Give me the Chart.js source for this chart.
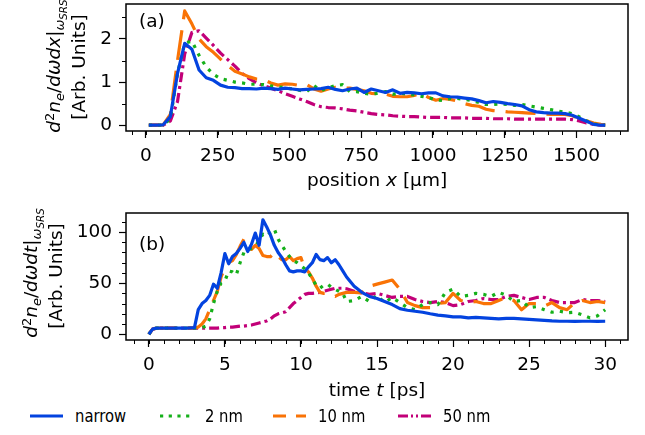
<!DOCTYPE html>
<html>
<head>
<meta charset="utf-8">
<script src="https://cdn.jsdelivr.net/npm/chart.js@4.4.1/dist/chart.umd.min.js"></script>
<style>
  body { margin: 0; background: #fff; font-family: "DejaVu Sans", sans-serif; color: #000; }
  #wrap { position: relative; width: 645px; height: 435px; overflow: hidden; }
  canvas { position: absolute; left: 0; }
  .txt { position: absolute; font-size: 18.5px; line-height: 1; white-space: nowrap; }
  .leg { font-size: 18.5px; transform-origin: 0 50%; transform: translate(0, -50%) scaleX(0.8); }
  .ctr { transform: translate(-50%, -50%); }
  .rot { transform: translate(-50%, -50%) rotate(-90deg); }
  sup { font-size: 70%; vertical-align: 0.45em; line-height: 0; }
  sub { font-size: 70%; vertical-align: -0.3em; line-height: 0; }
  sub sub { font-size: 80%; }
</style>
</head>
<body>
<div id="wrap">
  <canvas id="top" width="645" height="200" style="top:0"></canvas>
  <canvas id="bottom" width="645" height="200" style="top:200px"></canvas>

  <div class="txt rot" style="left:54px;top:66px"><i>d</i><sup>2</sup><i>n</i><sub><i>e</i></sub>/<i>dωdx</i>|<sub><i>ω</i><sub><i>SRS</i></sub></sub></div>
  <div class="txt rot" style="left:79px;top:67px">[Arb. Units]</div>
  <div class="txt ctr" style="left:377px;top:180px">position <i>x</i> [μm]</div>
  <div class="txt" style="left:139px;top:12px">(a)</div>

  <div class="txt rot" style="left:31px;top:273px"><i>d</i><sup>2</sup><i>n</i><sub><i>e</i></sub>/<i>dωdt</i>|<sub><i>ω</i><sub><i>SRS</i></sub></sub></div>
  <div class="txt rot" style="left:56px;top:276px">[Arb. Units]</div>
  <div class="txt ctr" style="left:377px;top:390px">time <i>t</i> [ps]</div>
  <div class="txt" style="left:139px;top:235px">(b)</div>

  <div id="legend"></div>
</div>
<script>
// series names
var names = ['narrow', '2 nm', '10 nm', '50 nm'];

// panel (a): position x in um
var posX = [
  10, 35, 60, 85, 110, 135, 160, 185, 210, 235,
  260, 285, 310, 335, 360, 385, 410, 435, 460, 485,
  510, 535, 560, 585, 610, 635, 660, 685, 710, 735,
  760, 785, 810, 835, 860, 885, 910, 935, 960, 985,
  1010, 1035, 1060, 1085, 1110, 1135, 1160, 1185, 1210, 1235,
  1260, 1285, 1310, 1335, 1360, 1385, 1410, 1435, 1460, 1485,
  1510, 1535, 1560, 1585, 1600
];
var posNarrow = [
  0, 0, 0.01, 0.2, 1.2, 1.9, 1.76, 1.28, 1.1, 1.04,
  0.93, 0.88, 0.87, 0.85, 0.85, 0.84, 0.86, 0.85, 0.83, 0.86,
  0.84, 0.82, 0.83, 0.84, 0.85, 0.88, 0.83, 0.8, 0.84, 0.86,
  0.76, 0.84, 0.8, 0.76, 0.82, 0.74, 0.76, 0.75, 0.73, 0.75,
  0.75, 0.68, 0.66, 0.65, 0.63, 0.61, 0.57, 0.52, 0.55, 0.53,
  0.5, 0.48, 0.45, 0.36, 0.31, 0.29, 0.28, 0.28, 0.27, 0.23,
  0.16, 0.09, 0.02, 0, 0
];
var pos2nm = [
  0, 0, 0, 0.15, 1.2, 1.9, 1.95, 1.62, 1.35, 1.18,
  1.08, 1.04, 1.0, 0.98, 0.95, 0.95, 0.94, 0.91, 0.89, 0.87,
  0.84, 0.81, 0.78, 0.92, 0.8, 0.87, 0.92, 0.94, 0.78, 0.78,
  0.74, 0.72, 0.74, 0.78, 0.72, 0.74, 0.72, 0.7, 0.67, 0.64,
  0.59, 0.57, 0.62, 0.62, 0.6, 0.57, 0.53, 0.48, 0.48, 0.49,
  0.48, 0.46, 0.48, 0.45, 0.42, 0.39, 0.36, 0.33, 0.3, 0.27,
  0.19, 0.1, 0.03, 0, 0
];
var pos10nm = [
  0, 0, 0.01, 0.25, 1.5, 2.65, 2.35, 2.0, 1.82, 1.69,
  1.53, 1.38, 1.25, 1.19, 1.12, 1.07, 1.06, 0.98, 0.93, 0.96,
  0.95, 0.92, 0.94, 0.84, 0.79, 0.84, 0.88, 0.86, 0.86, 0.83,
  0.8, 0.74, 0.73, 0.72, 0.67, 0.66, 0.66, 0.69, 0.74, 0.64,
  0.58, 0.62, 0.6, 0.56, 0.5, 0.46, 0.44, 0.37, 0.34, 0.33,
  0.31, 0.3, 0.29, 0.28, 0.27, 0.26, 0.25, 0.25, 0.25, 0.22,
  0.15, 0.1, 0.05, 0.02, 0.01
];
var pos50nm = [
  0, 0, 0, 0.1, 0.55, 1.65, 2.15, 2.19, 2.02, 1.85,
  1.67, 1.52, 1.37, 1.2, 1.08, 0.98, 0.92, 0.86, 0.8, 0.73,
  0.67, 0.61, 0.55, 0.48, 0.43, 0.41, 0.4, 0.38, 0.35, 0.33,
  0.3, 0.27, 0.25, 0.24, 0.22, 0.21, 0.2, 0.2, 0.19, 0.18,
  0.18, 0.18, 0.17, 0.17, 0.17, 0.16, 0.16, 0.16, 0.15, 0.15,
  0.15, 0.14, 0.14, 0.14, 0.14, 0.14, 0.14, 0.14, 0.14, 0.13,
  0.1, 0.05, 0.02, 0, 0
];

// panel (b): time t in ps
var timeT = [
  0, 0.25, 0.5, 1, 1.5, 2, 2.5,
  3, 3.25, 3.5, 3.75, 4, 4.25, 4.5, 4.75, 5, 5.25, 5.5, 5.75,
  6, 6.25, 6.5, 6.75, 7, 7.25, 7.5, 7.75, 8, 8.25, 8.5, 8.75,
  9, 9.25, 9.5, 9.75, 10, 10.25, 10.5, 10.75, 11, 11.25, 11.5, 11.75,
  12, 12.25, 12.5, 12.75, 13,
  13.5, 14, 14.5, 15, 15.5, 16, 16.5, 17, 17.5, 18, 18.5, 19, 19.5, 20,
  20.5, 21, 21.5, 22, 22.5, 23, 23.5, 24, 24.5, 25, 25.5, 26, 26.5, 27, 27.5, 28, 28.5, 29, 29.5, 30
];
var timeNarrow = [
  0, 5, 6, 6, 6, 6, 6,
  6.5, 24, 30, 33, 38, 49, 45, 60, 79, 69, 76, 79,
  84, 90, 81, 88, 99, 87, 112, 105, 97, 87, 80, 75,
  68, 62, 61, 62, 62, 61, 66, 70, 78, 73, 72, 75,
  70, 73, 68, 62, 56,
  47, 41, 37, 35, 32, 29, 25, 23.5, 22.5, 21.5, 20, 18.7, 18, 17,
  17, 16, 16.5, 16, 15.5, 15, 15.5, 15.5, 15, 14.5, 14, 13.5, 13, 12.7, 12.7, 12.5, 12.7, 12.7, 12.6, 12.7
];
var time2nm = [
  0, 5, 6, 6, 6, 6, 6,
  6, 6, 6.5, 8, 15, 30, 42, 50, 52, 62, 61, 58,
  70, 80, 83, 84, 86, 92, 98, 96, 100, 103, 93, 87,
  81, 76, 72, 70, 67, 64, 60, 54, 48, 45, 48, 49,
  46, 44, 42, 40, 32,
  33, 37, 32, 38, 31, 36, 31, 26, 24, 29, 31, 29, 41, 44,
  37, 38, 40, 39, 37, 41, 38, 32, 33, 26, 27, 24, 21.5, 22.5, 21, 21.5, 19, 16, 18, 24
];
var time10nm = [
  0, 5, 6, 6, 6, 6, 6,
  6.5, 7, 10, 15, 24, 33, 42, 56, 65, 70, 72, 78,
  86, 93, 86, 83, 87, 84, 77, 76, 76, 80, 76, 73,
  73, 76, 72, 74, 75, 64, 61, 55, 47, 41, 40, 40,
  38, 37, 39, 40, 41,
  41, 40.5, 47, 49, 51, 53, 44, 31, 28, 26, 26, 30, 31, 40,
  33, 31, 32, 30, 30, 33, 36, 33, 24, 30, 30, 27.5, 31, 26, 24, 31, 33, 31, 32, 31
];
var time50nm = [
  0, 5, 6, 6, 6, 6, 6,
  6, 6, 6, 6, 6, 6, 6, 6.5, 6.5, 7, 7, 7.5,
  8, 8, 8.5, 9, 10, 11, 12, 13, 15, 18, 20, 21,
  22, 26, 30, 33, 36, 39, 40, 40, 40.5, 41, 42, 43,
  44, 45, 45, 45, 44.5,
  42, 40.5, 39, 40, 38, 36, 37, 37, 34, 32, 31, 32, 31, 28,
  29, 32, 33, 35, 34, 34, 37, 38, 36, 34, 36, 36, 33, 31, 31, 31, 34, 33, 33, 32
];

// tick labels
var posTicks = [0, 250, 500, 750, 1000, 1250, 1500];
var posYTicks = [0, 1, 2];
var timeTicks = [0, 5, 10, 15, 20, 25, 30];
var timeYTicks = [0, 50, 100];

var colors = ['#0343df', '#15b01a', '#f97306', '#c20078'];
var dashes = [[], [3.2, 6.2], [30, 11], [10, 4, 3, 4]];
var legendDashes = [[], [3.2, 5.5], [13, 10], [10, 3, 2, 3, 2, 3]];
var FONT = { family: 'DejaVu Sans', size: 18.5 };

function pts(xs, ys) {
  return ys.map(function (v, i) { return { x: xs[i], y: v }; });
}

function steps(from, to, step) {
  var out = [];
  for (var v = from; v <= to + 1e-9; v += step) out.push(+v.toFixed(6));
  return out;
}

// frame box + minor ticks
var frameTicks = {
  id: 'frameTicks',
  afterDraw: function (chart, args, opts) {
    var ctx = chart.ctx, a = chart.chartArea;
    var x = chart.scales.x, y = chart.scales.y;
    ctx.save();
    ctx.strokeStyle = '#000';
    ctx.lineWidth = 1;
    ctx.beginPath();
    opts.xMinor.forEach(function (v) {
      var px = Math.round(x.getPixelForValue(v)) + 0.5;
      if (px < a.left || px > a.right) return;
      ctx.moveTo(px, a.bottom);
      ctx.lineTo(px, a.bottom + 4);
    });
    opts.yMinor.forEach(function (v) {
      var py = Math.round(y.getPixelForValue(v)) + 0.5;
      if (py < a.top || py > a.bottom) return;
      ctx.moveTo(a.left, py);
      ctx.lineTo(a.left - 4, py);
    });
    ctx.stroke();
    ctx.lineWidth = 1.5;
    ctx.strokeRect(a.left, a.top, a.right - a.left, a.bottom - a.top);
    ctx.restore();
  }
};

function makeChart(id, xs, series, o) {
  var datasets = series.map(function (s, i) {
    return {
      label: names[i],
      data: pts(xs, s),
      borderColor: colors[i],
      borderWidth: 3.2,
      borderDash: dashes[i],
      borderCapStyle: 'butt',
      borderJoinStyle: 'round',
      pointRadius: 0,
      tension: 0,
      fill: false
    };
  });
  var tickSet = function (vals) {
    return function (scale) { scale.ticks = vals.map(function (v) { return { value: v }; }); };
  };
  var plain = function (v) { return String(v); };
  return new Chart(document.getElementById(id), {
    type: 'line',
    data: { datasets: datasets },
    options: {
      responsive: false,
      animation: false,
      layout: { padding: { top: o.padTop, right: 17, left: 0, bottom: 0 } },
      scales: {
        x: {
          type: 'linear',
          min: o.xMin, max: o.xMax,
          afterBuildTicks: tickSet(o.xTicks),
          afterFit: function (s) {
            s.height = o.xHeight;
            s.paddingLeft = 0; s.paddingRight = 0;
          },
          grid: { drawOnChartArea: false, tickLength: 7, tickWidth: 1.2, tickColor: '#000' },
          border: { display: false },
          ticks: { color: '#000', font: FONT, padding: 7.5, maxRotation: 0, autoSkip: false, callback: plain }
        },
        y: {
          min: o.yMin, max: o.yMax,
          afterBuildTicks: tickSet(o.yTicks),
          afterFit: function (s) {
            s.width = 126;
            s.paddingTop = 0; s.paddingBottom = 0;
          },
          grid: { drawOnChartArea: false, tickLength: 7, tickWidth: 1.2, tickColor: '#000' },
          border: { display: false },
          ticks: { color: '#000', font: FONT, padding: 7, callback: plain }
        }
      },
      plugins: {
        legend: { display: false },
        tooltip: { enabled: false },
        frameTicks: { xMinor: o.xMinor, yMinor: o.yMinor }
      }
    },
    plugins: [frameTicks]
  });
}

makeChart('top', posX, [posNarrow, pos2nm, pos10nm, pos50nm], {
  padTop: 4, xHeight: 69,
  xMin: -69.5, xMax: 1679.5, yMin: -0.134, yMax: 2.81,
  xTicks: posTicks, yTicks: posYTicks,
  xMinor: steps(-50, 1650, 50), yMinor: steps(0.5, 2.5, 1)
});

makeChart('bottom', timeT, [timeNarrow, time2nm, time10nm, time50nm], {
  padTop: 13, xHeight: 60,
  xMin: -1.5, xMax: 31.5, yMin: -5.65, yMax: 118.65,
  xTicks: timeTicks, yTicks: timeYTicks,
  xMinor: steps(-1, 31, 1), yMinor: steps(10, 110, 10)
});

// legend below both panels
var legendX = [30, 160, 273, 398];
var leg = document.getElementById('legend');
var svg = '<svg width="645" height="30" style="position:absolute;left:0;top:401px">';
names.forEach(function (n, i) {
  svg += '<line x1="' + legendX[i] + '" x2="' + (legendX[i] + 33) + '" y1="15" y2="15" stroke="' + colors[i] +
    '" stroke-width="3.2" stroke-dasharray="' + legendDashes[i].join(',') + '"/>';
});
svg += '</svg>';
var html = svg;
names.forEach(function (n, i) {
  html += '<div class="txt leg" style="left:' + (legendX[i] + 45) + 'px;top:416px">' + n + '</div>';
});
leg.innerHTML = html;
</script>
</body>
</html>
